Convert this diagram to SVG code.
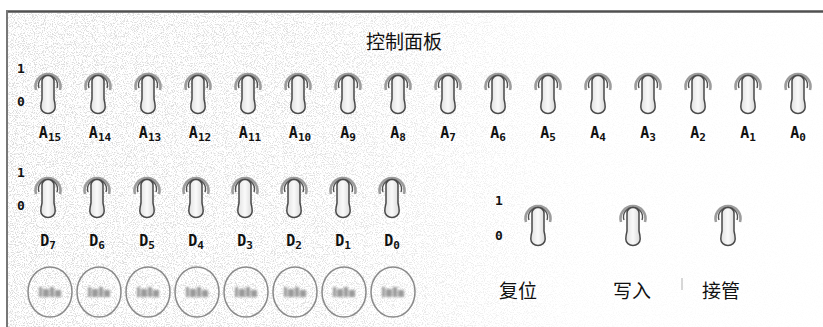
<svg xmlns="http://www.w3.org/2000/svg" width="823" height="327" viewBox="0 0 823 327">
<defs>
  <style>
    .bit{font-family:"DejaVu Sans Mono","Liberation Mono",monospace;font-weight:bold;font-size:13px;fill:#111}
    .lab{font-family:"DejaVu Sans Mono","Liberation Mono",monospace;font-weight:bold;font-size:15px;fill:#111;text-anchor:middle}
    .sub{font-size:11px}
    .cjk{font-family:"Noto Sans CJK SC","Noto Sans",sans-serif;font-size:19px;fill:#111}
    .halo{fill:none;stroke:#9c9c9c;stroke-width:2.6}
    .ring{fill:none;stroke:#505050;stroke-width:1.4}
    .lever{fill:url(#lev);stroke:#4a4a4a;stroke-width:1.5}
    .lamp{fill:none;stroke:#8a8a8a;stroke-width:1.5}
    .glow{fill:#9a9a9a;filter:url(#blur)}
  </style>
  <linearGradient id="lev" x1="0" y1="0" x2="1" y2="0">
    <stop offset="0" stop-color="#e0e0e0"/>
    <stop offset="0.5" stop-color="#fafafa"/>
    <stop offset="1" stop-color="#d8d8d8"/>
  </linearGradient>
  <linearGradient id="fade" x1="0" y1="0" x2="1" y2="0">
    <stop offset="0" stop-color="#fff" stop-opacity="0"/>
    <stop offset="0.4" stop-color="#fff" stop-opacity="0.15"/>
    <stop offset="0.7" stop-color="#fff" stop-opacity="0.85"/>
    <stop offset="1" stop-color="#fff" stop-opacity="0.95"/>
  </linearGradient>
  <filter id="noise" x="0" y="0" width="100%" height="100%">
    <feTurbulence type="fractalNoise" baseFrequency="0.9" numOctaves="2" seed="7"/>
    <feColorMatrix type="matrix" values="0 0 0 0 0.45  0 0 0 0 0.45  0 0 0 0 0.45  7 0 0 0 -3.55"/>
  </filter>
  <filter id="blur" x="-20%" y="-40%" width="140%" height="180%">
    <feGaussianBlur stdDeviation="0.8"/>
  </filter>
  <g id="toggle">
    <path class="halo" d="M-12,9 A12.5,12.5 0 1 1 12,9"/>
    <path class="ring" d="M-9,7 A9.5,9.5 0 1 1 9,7"/>
    <path class="lever" d="M-6,0 A6,5.5 0 0 1 6,0 L6,18 Q7.2,23 7.2,26 A7.2,6.5 0 0 1 -7.2,26 Q-7.2,23 -6,18 Z"/>
  </g>
  <g id="lampIcon">
    <ellipse class="lamp" cx="0" cy="0" rx="22" ry="25"/>
    <g class="glow">
      <rect x="-11" y="-5" width="3" height="10"/>
      <rect x="-7" y="-3" width="6" height="8"/>
      <rect x="0" y="-5" width="4" height="10"/>
      <rect x="5" y="-2" width="6" height="7"/>
    </g>
  </g>
</defs>

<rect x="0" y="0" width="823" height="327" fill="#fff"/>
<rect x="8" y="13" width="815" height="314" filter="url(#noise)" opacity="0.45"/>
<rect x="8" y="13" width="815" height="314" fill="url(#fade)"/>

<g id="frame">
  <line x1="6" y1="11.5" x2="823" y2="11.5" stroke="#505050" stroke-width="2.5"/>
  <line x1="7" y1="11" x2="7" y2="327" stroke="#777" stroke-width="2"/>
  <line x1="682" y1="278" x2="682" y2="290" stroke="#b0b0b0" stroke-width="1"/>
</g>

<g id="title"><text class="cjk" x="404" y="49" text-anchor="middle">控制面板</text></g>

<g id="addr-scale">
  <text class="bit" x="17" y="73">1</text>
  <text class="bit" x="17" y="106">0</text>
</g>

<g id="addr-switches">
  <g id="A15"><use href="#toggle" x="48" y="81"/><text class="lab" x="50" y="138">A<tspan class="sub" dy="3">15</tspan></text></g>
  <g id="A14"><use href="#toggle" x="98" y="81"/><text class="lab" x="100" y="138">A<tspan class="sub" dy="3">14</tspan></text></g>
  <g id="A13"><use href="#toggle" x="148" y="81"/><text class="lab" x="150" y="138">A<tspan class="sub" dy="3">13</tspan></text></g>
  <g id="A12"><use href="#toggle" x="198" y="81"/><text class="lab" x="200" y="138">A<tspan class="sub" dy="3">12</tspan></text></g>
  <g id="A11"><use href="#toggle" x="248" y="81"/><text class="lab" x="250" y="138">A<tspan class="sub" dy="3">11</tspan></text></g>
  <g id="A10"><use href="#toggle" x="298" y="81"/><text class="lab" x="300" y="138">A<tspan class="sub" dy="3">10</tspan></text></g>
  <g id="A9"><use href="#toggle" x="348" y="81"/><text class="lab" x="348" y="138">A<tspan class="sub" dy="3">9</tspan></text></g>
  <g id="A8"><use href="#toggle" x="398" y="81"/><text class="lab" x="398" y="138">A<tspan class="sub" dy="3">8</tspan></text></g>
  <g id="A7"><use href="#toggle" x="448" y="81"/><text class="lab" x="448" y="138">A<tspan class="sub" dy="3">7</tspan></text></g>
  <g id="A6"><use href="#toggle" x="498" y="81"/><text class="lab" x="498" y="138">A<tspan class="sub" dy="3">6</tspan></text></g>
  <g id="A5"><use href="#toggle" x="548" y="81"/><text class="lab" x="548" y="138">A<tspan class="sub" dy="3">5</tspan></text></g>
  <g id="A4"><use href="#toggle" x="598" y="81"/><text class="lab" x="598" y="138">A<tspan class="sub" dy="3">4</tspan></text></g>
  <g id="A3"><use href="#toggle" x="648" y="81"/><text class="lab" x="648" y="138">A<tspan class="sub" dy="3">3</tspan></text></g>
  <g id="A2"><use href="#toggle" x="698" y="81"/><text class="lab" x="698" y="138">A<tspan class="sub" dy="3">2</tspan></text></g>
  <g id="A1"><use href="#toggle" x="748" y="81"/><text class="lab" x="748" y="138">A<tspan class="sub" dy="3">1</tspan></text></g>
  <g id="A0"><use href="#toggle" x="798" y="81"/><text class="lab" x="798" y="138">A<tspan class="sub" dy="3">0</tspan></text></g>
</g>

<g id="data-scale">
  <text class="bit" x="17" y="177">1</text>
  <text class="bit" x="17" y="210">0</text>
</g>

<g id="data-switches">
  <g id="D7"><use href="#toggle" x="48" y="185"/><text class="lab" x="48" y="246">D<tspan class="sub" dy="3">7</tspan></text></g>
  <g id="D6"><use href="#toggle" x="97" y="185"/><text class="lab" x="97" y="246">D<tspan class="sub" dy="3">6</tspan></text></g>
  <g id="D5"><use href="#toggle" x="147" y="185"/><text class="lab" x="147" y="246">D<tspan class="sub" dy="3">5</tspan></text></g>
  <g id="D4"><use href="#toggle" x="196" y="185"/><text class="lab" x="196" y="246">D<tspan class="sub" dy="3">4</tspan></text></g>
  <g id="D3"><use href="#toggle" x="245" y="185"/><text class="lab" x="245" y="246">D<tspan class="sub" dy="3">3</tspan></text></g>
  <g id="D2"><use href="#toggle" x="294" y="185"/><text class="lab" x="294" y="246">D<tspan class="sub" dy="3">2</tspan></text></g>
  <g id="D1"><use href="#toggle" x="343" y="185"/><text class="lab" x="343" y="246">D<tspan class="sub" dy="3">1</tspan></text></g>
  <g id="D0"><use href="#toggle" x="392" y="185"/><text class="lab" x="392" y="246">D<tspan class="sub" dy="3">0</tspan></text></g>
</g>

<g id="lamps">
  <use href="#lampIcon" x="50" y="292"/>
  <use href="#lampIcon" x="99" y="292"/>
  <use href="#lampIcon" x="148" y="292"/>
  <use href="#lampIcon" x="197" y="292"/>
  <use href="#lampIcon" x="246" y="292"/>
  <use href="#lampIcon" x="295" y="292"/>
  <use href="#lampIcon" x="344" y="292"/>
  <use href="#lampIcon" x="393" y="292"/>
</g>

<g id="ctrl-scale">
  <text class="bit" x="495" y="205">1</text>
  <text class="bit" x="495" y="240">0</text>
</g>

<g id="ctrl-switches">
  <g id="reset"><use href="#toggle" x="538" y="213"/><text class="cjk" x="518" y="298" text-anchor="middle">复位</text></g>
  <g id="write"><use href="#toggle" x="633" y="213"/><text class="cjk" x="632" y="298" text-anchor="middle">写入</text></g>
  <g id="takeover"><use href="#toggle" x="728" y="213"/><text class="cjk" x="721" y="298" text-anchor="middle">接管</text></g>
</g>
</svg>
